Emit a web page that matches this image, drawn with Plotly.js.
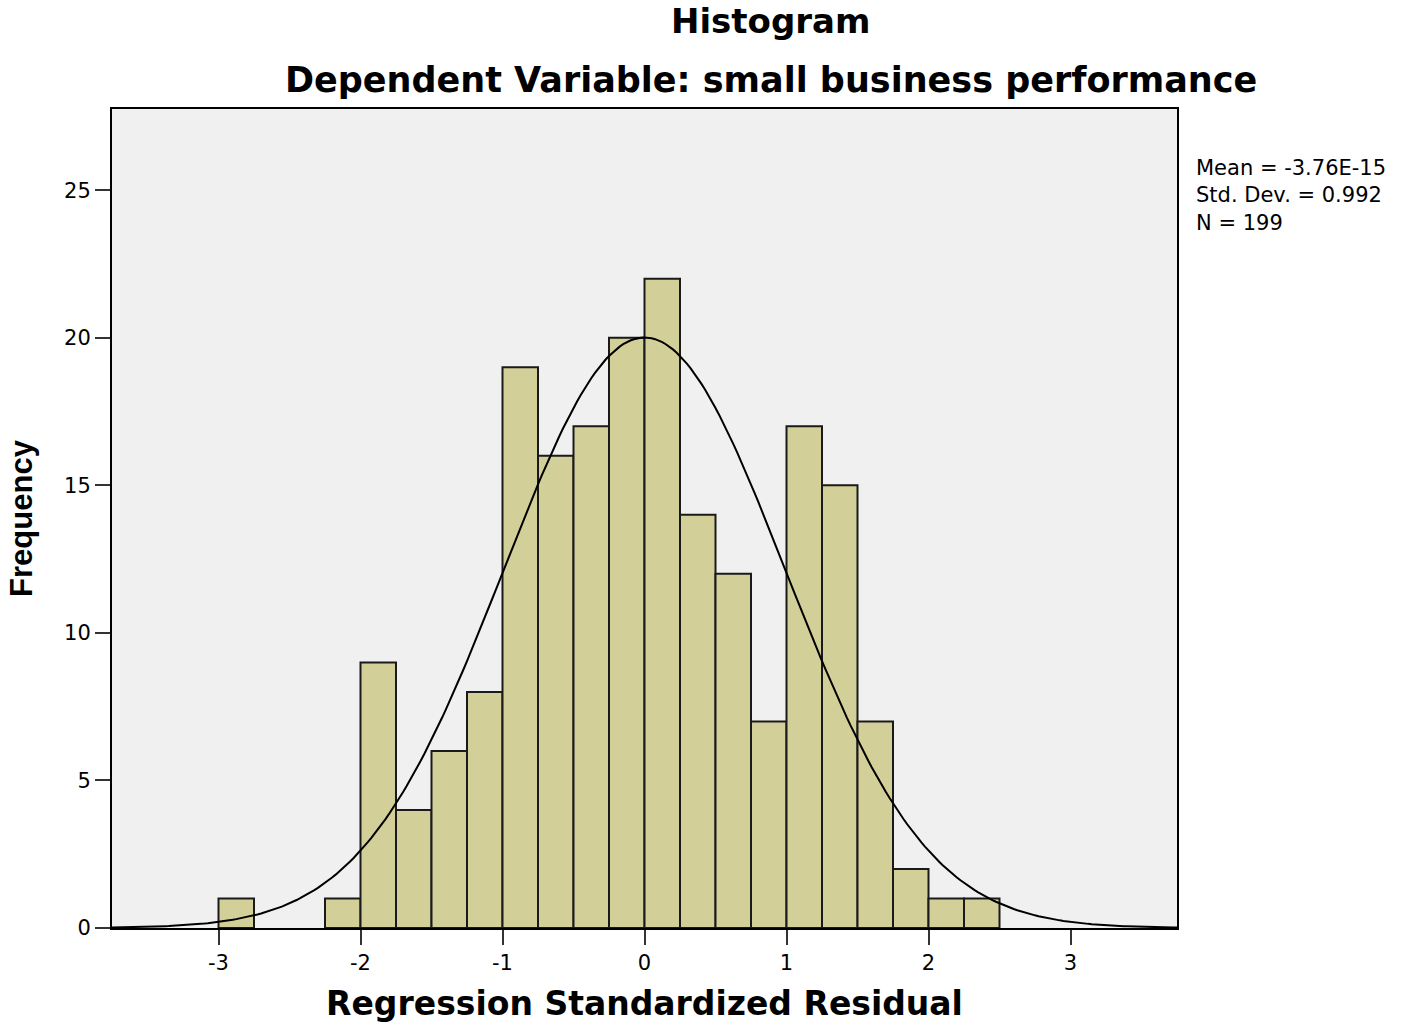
<!DOCTYPE html>
<html>
<head>
<meta charset="utf-8">
<script src="https://cdn.plot.ly/plotly-3.0.1.min.js"></script>
<style>html,body{margin:0;padding:0;background:#fff;}#chart{width:1418px;height:1031px;}</style>
</head>
<body>
<div id="chart"></div>
<script>
// Histogram bins (left edges) and frequencies
var binStart = [-3.0, -2.25, -2.0, -1.75, -1.5, -1.25, -1.0, -0.75, -0.5, -0.25, 0.0, 0.25, 0.5, 0.75, 1.0, 1.25, 1.5, 1.75, 2.0, 2.25];
var binWidth = 0.25;
var frequency = [1, 1, 9, 4, 6, 8, 19, 16, 17, 20, 22, 14, 12, 7, 17, 15, 7, 2, 1, 1];
// Summary statistics shown in the chart
var statMean = -3.76e-15;
var statSD = 0.992;
var statN = 199;
var statLines = ['Mean = -3.76E-15', 'Std. Dev. = 0.992', 'N = 199'];
var xTicks = [-3, -2, -1, 0, 1, 2, 3];
var yTicks = [0, 5, 10, 15, 20, 25];

var binCenter = binStart.map(function(s){ return s + binWidth/2; });

// Normal curve overlay defined by the stated mean, SD, N and bin width
var curveX = [], curveY = [];
for (var i = 0; i <= 300; i++) {
  var x = -3.75 + 7.5 * i / 300;
  var z = (x - statMean) / statSD;
  curveX.push(x);
  curveY.push(statN * binWidth / (statSD * Math.sqrt(2 * Math.PI)) * Math.exp(-0.5 * z * z));
}

var bars = {
  type: 'bar', x: binCenter, y: frequency, width: binWidth,
  marker: {color: '#D3CF98', line: {color: '#1a1a1a', width: 2}},
  hoverinfo: 'x+y'
};
var curve = {
  type: 'scatter', mode: 'lines', x: curveX, y: curveY,
  line: {color: '#000', width: 2}, hoverinfo: 'skip'
};

var wide = 'DejaVu Sans, Verdana, sans-serif';
var narrow = 'Liberation Sans, Arial, sans-serif';
var annotations = [
  {text: '<b>Histogram</b>', xref: 'paper', yref: 'paper', x: 0.618, y: 1.108, xanchor: 'center', yanchor: 'middle', showarrow: false, font: {size: 34, family: wide}},
  {text: '<b>Dependent Variable: small business performance</b>', xref: 'paper', yref: 'paper', x: 0.619, y: 1.0355, xanchor: 'center', yanchor: 'middle', showarrow: false, font: {size: 35, family: wide}},
  {text: statLines.join('<br>'), xref: 'paper', yref: 'paper', x: 1.0155, y: (928 - 154) / 819, xanchor: 'left', yanchor: 'top', align: 'left', showarrow: false, font: {size: 21, family: wide, color: '#000'}}
];

var layout = {
  width: 1418, height: 1031,
  margin: {l: 112, r: 241, t: 109, b: 103},
  paper_bgcolor: '#fff', plot_bgcolor: '#F0F0F0',
  showlegend: false, bargap: 0,
  font: {family: wide, color: '#000'},
  xaxis: {
    range: [-3.75, 3.75], tickvals: xTicks, ticktext: xTicks.map(String),
    ticks: 'outside', ticklen: 15, tickwidth: 2, tickcolor: '#333',
    showline: true, linecolor: '#000', linewidth: 2, mirror: true,
    showgrid: false, zeroline: false,
    tickfont: {size: 21, family: wide, color: '#000'},
    title: {text: 'Regression Standardized Residual', font: {size: 33, family: wide, weight: 'bold'}, standoff: 18}
  },
  yaxis: {
    range: [0, 27.75], tickvals: yTicks, ticktext: yTicks.map(String),
    ticks: 'outside', ticklen: 15, tickwidth: 2, tickcolor: '#333',
    showline: true, linecolor: '#000', linewidth: 2, mirror: true,
    showgrid: false, zeroline: false,
    tickfont: {size: 21, family: wide, color: '#000'},
    title: {text: 'Frequency', font: {size: 31, family: narrow, weight: 'bold'}, standoff: 22}
  },
  annotations: annotations
};

Plotly.newPlot('chart', [bars, curve], layout, {displayModeBar: false, staticPlot: true});
</script>
</body>
</html>
